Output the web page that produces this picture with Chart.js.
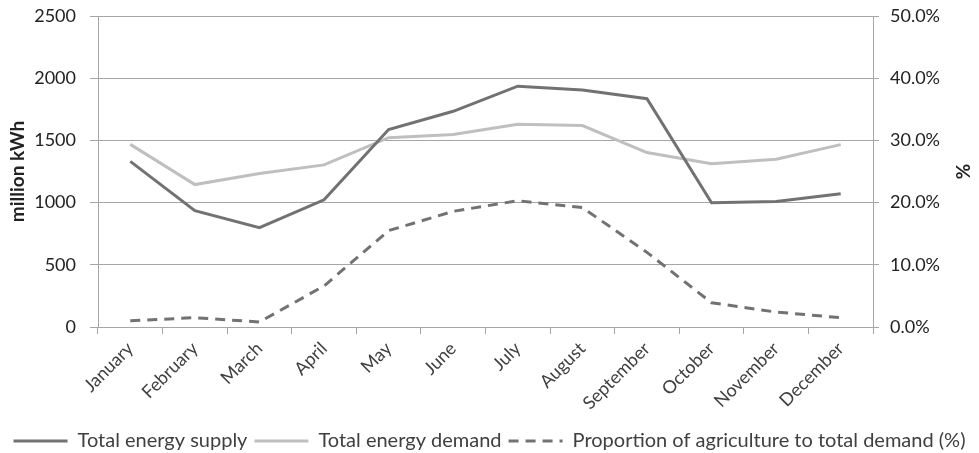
<!DOCTYPE html>
<html>
<head>
<meta charset="utf-8">
<script src="https://cdn.jsdelivr.net/npm/chart.js@4"></script>
<style>
  html, body { margin: 0; padding: 0; background: #fff; }
  #wrap { width: 979px; height: 453px; }
</style>
</head>
<body>
<div id="wrap"><canvas id="grafico" width="979" height="453"></canvas></div>
<script>
// Meses (eixo X)
const meses = ['January', 'February', 'March', 'April', 'May', 'June', 'July',
               'August', 'September', 'October', 'November', 'December'];

// Séries em milhões de kWh
const oferta = [1331, 935, 798, 1022, 1587, 1734, 1936, 1906, 1835, 998, 1008, 1071];
const demanda = [1468, 1145, 1234, 1303, 1522, 1547, 1630, 1619, 1402, 1313, 1349, 1466];

// Proporção da agricultura na demanda total (%)
const propAgri = [1.0, 1.5, 0.8, 6.6, 15.5, 18.6, 20.3, 19.2, 12.0, 3.9, 2.4, 1.5];

// Ticks dos eixos
const ticksEsq = [0, 500, 1000, 1500, 2000, 2500];
const ticksDir = [0, 10, 20, 30, 40, 50];

const fonte = 'Lato, "Liberation Sans", sans-serif';
const corGrade = '#a6a6a6';

// Fixa largura do eixo e ignora o padding dos ticks no topo/base
const travarEixo = largura => s => {
    s.width = largura;
    s.paddingTop = 11;
    s.paddingBottom = 11;
};

new Chart(document.getElementById('grafico'), {
    type: 'line',
    data: {
        labels: meses,
        datasets: [
            {
                label: 'Total energy supply',
                data: oferta,
                borderColor: '#727272',
                borderWidth: 3,
                pointRadius: 0,
                tension: 0,
                yAxisID: 'y'
            },
            {
                label: 'Total energy demand',
                data: demanda,
                borderColor: '#bfbfbf',
                borderWidth: 3,
                pointRadius: 0,
                tension: 0,
                yAxisID: 'y'
            },
            {
                label: 'Proportion of agriculture to total demand (%)',
                data: propAgri,
                borderColor: '#727272',
                borderWidth: 3,
                borderDash: [10, 7],
                pointRadius: 0,
                tension: 0,
                yAxisID: 'y1'
            }
        ]
    },
    options: {
        responsive: false,
        animation: false,
        layout: { padding: { top: 16, left: 0, right: 0, bottom: -8 } },
        plugins: {
            legend: {
                position: 'bottom',
                labels: {
                    usePointStyle: true,
                    pointStyle: 'line',
                    pointStyleWidth: 54,
                    padding: 7,
                    color: '#404040',
                    font: { family: fonte, size: 20 },
                    // linha tracejada na legenda (o padrão ignora borderDash com pointStyle)
                    generateLabels: chart => {
                        const itens = Chart.defaults.plugins.legend.labels.generateLabels(chart);
                        itens.forEach(it => {
                            const ds = chart.data.datasets[it.datasetIndex];
                            it.lineDash = ds.borderDash || [];
                            it.lineWidth = 3;
                            it.strokeStyle = ds.borderColor;
                            it.pointStyle = 'line';
                        });
                        return itens;
                    }
                }
            },
            tooltip: { enabled: false }
        },
        scales: {
            x: {
                offset: true,
                grid: {
                    offset: true,
                    drawOnChartArea: false,
                    color: corGrade,
                    tickLength: 7,
                    tickColor: corGrade
                },
                border: { color: corGrade, width: 1 },
                ticks: {
                    autoSkip: false,
                    maxRotation: 45,
                    minRotation: 45,
                    padding: 4,
                    color: '#404040',
                    font: { family: fonte, size: 18 }
                },
                afterFit: s => { s.height = 97; }
            },
            y: {
                position: 'left',
                min: 0,
                max: 2500,
                afterBuildTicks: s => { s.ticks = ticksEsq.map(v => ({ value: v })); },
                grid: { color: corGrade, tickLength: 8, tickColor: corGrade },
                border: { color: corGrade, width: 1 },
                ticks: {
                    color: '#222',
                    padding: 14,
                    font: { family: fonte, size: 18 },
                    callback: v => String(v)
                },
                title: {
                    display: true,
                    text: 'million kWh',
                    color: '#222',
                    padding: { top: 6, bottom: 2 },
                    font: { family: fonte, size: 19, weight: 'bold' }
                },
                afterFit: travarEixo(98)
            },
            y1: {
                position: 'right',
                min: 0,
                max: 50,
                afterBuildTicks: s => { s.ticks = ticksDir.map(v => ({ value: v })); },
                grid: { drawOnChartArea: false, tickLength: 6, tickColor: corGrade },
                border: { color: corGrade, width: 1 },
                ticks: {
                    color: '#222',
                    padding: 11,
                    font: { family: fonte, size: 18 },
                    callback: v => v.toFixed(1) + '%'
                },
                title: {
                    display: true,
                    text: '%',
                    color: '#222',
                    padding: { top: 5, bottom: 0 },
                    font: { family: fonte, size: 19, weight: 'bold' }
                },
                afterFit: travarEixo(106)
            }
        }
    }
});
</script>
</body>
</html>
